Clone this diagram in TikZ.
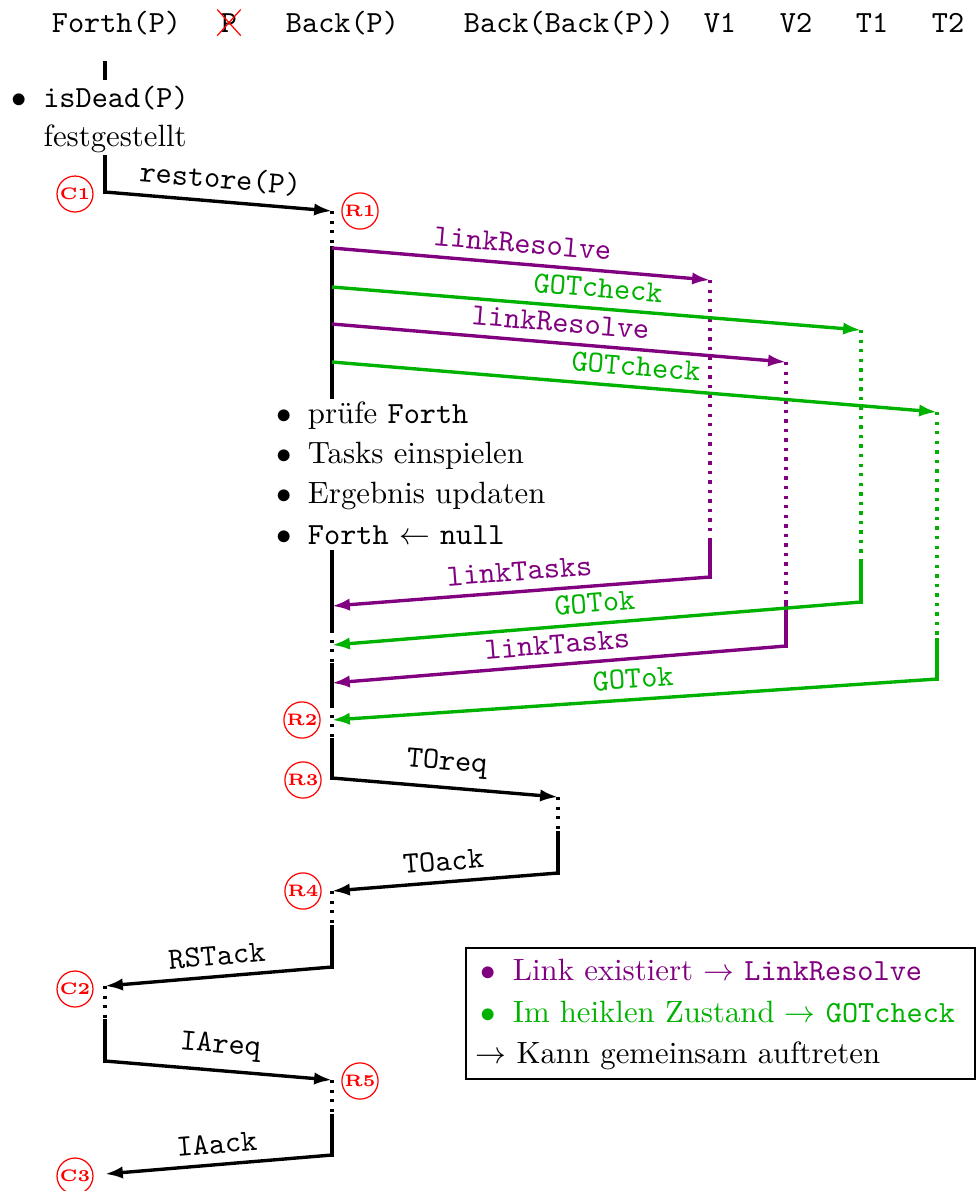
\documentclass[tikz,border=0pt]{standalone}
\usepackage{fontspec}
\usetikzlibrary{arrows.meta,shapes.misc}
\definecolor{lkcol}{rgb}{0.5,0,0.5}
\definecolor{gtcol}{rgb}{0,0.7,0}
\begin{document}
\begin{tikzpicture}[x=0.325pt, y=-0.325pt,
  life/.style={line width=1.1pt, line cap=rect},
  lifedot/.style={line width=1.1pt, dotted},
  msg/.style={line width=1.1pt, -{Latex[length=5.8pt,width=4pt]}},
  lbl/.style={above=2.2pt, sloped, font=\ttfamily, inner sep=0.8pt},
  stamp/.style={circle, draw=red, text=red, font=\fontsize{5.4pt}{6pt}\selectfont\bfseries, inner sep=0.4pt, minimum size=9.6pt, line width=0.4pt},
  head/.style={anchor=base, font=\ttfamily},
  txt/.style={anchor=base west, inner sep=0pt}]
\useasboundingbox (0,0) rectangle (978,1191);

% participants
\node[head] (hF) at (116.5,32) {Forth(P)};
\node[head, cross out, draw=red, inner sep=1pt] (hP) at (229,32) {P};
\node[head] (hB) at (342.5,32) {Back(P)};
\node[head] (hBB) at (569,32) {Back(Back(P))};
\node[head] (hV1) at (720,32) {V1};
\node[head] (hV2) at (796,32) {V2};
\node[head] (hT1) at (872,32) {T1};
\node[head] (hT2) at (948,32) {T2};

% event points
\coordinate (F0) at (105,63);  \coordinate (F1) at (105,78);
\coordinate (F2) at (105,157); \coordinate (c1) at (105,192);
\coordinate (r1) at (332,211);
\coordinate (B1) at (332,248); \coordinate (B2) at (332,287);
\coordinate (B3) at (332,324); \coordinate (B4) at (332,362);
\coordinate (B5) at (332,397);
\coordinate (v1a) at (710,280); \coordinate (v1b) at (710,540); \coordinate (v1c) at (710,577);
\coordinate (t1a) at (861,330); \coordinate (t1b) at (861,563); \coordinate (t1c) at (861,602);
\coordinate (v2a) at (786,362); \coordinate (v2b) at (786,605); \coordinate (v2c) at (786,646);
\coordinate (t2a) at (937,412); \coordinate (t2b) at (937,640); \coordinate (t2c) at (937,679);
\coordinate (B6) at (332,552);  \coordinate (B7) at (332,606);
\coordinate (B8) at (332,630);  \coordinate (B9) at (332,645);
\coordinate (B10) at (332,665); \coordinate (B11) at (332,683);
\coordinate (B12) at (332,705); \coordinate (B13) at (332,720);
\coordinate (B14) at (332,740); \coordinate (B15) at (332,778);
\coordinate (bb1) at (558,797); \coordinate (bb2) at (558,833); \coordinate (bb3) at (558,873);
\coordinate (B16) at (332,891); \coordinate (B17) at (332,927); \coordinate (B18) at (332,967);
\coordinate (F3) at (105,986);  \coordinate (F4) at (105,1021); \coordinate (F5) at (105,1061);
\coordinate (B19) at (332,1080); \coordinate (B20) at (332,1116); \coordinate (B21) at (332,1155);
\coordinate (F6) at (105,1174);

% Forth(P)
\draw[life] (F0) -- (F1);
\node[txt] (dead) at (11,107) {$\bullet$\hspace{5.3pt}\texttt{isDead(P)}};
\node[txt] (fest) at (43,146) {festgestellt};
\draw[life] (F2) -- (c1);
\draw[lifedot] (F3) -- (F4);
\draw[life] (F4) -- (F5);

% Back(P)
\draw[lifedot] (r1) -- (B1);
\draw[life] (B1) -- (B5);
\node[txt] (s1) at (276,423) {$\bullet$\hspace{5.2pt}prüfe \texttt{Forth}};
\node[txt] (s2) at (276,463) {$\bullet$\hspace{5.2pt}Tasks einspielen};
\node[txt] (s3) at (276,503) {$\bullet$\hspace{5.2pt}Ergebnis updaten};
\node[txt] (s4) at (276,544) {$\bullet$\hspace{5.2pt}\texttt{Forth} $\leftarrow$ \texttt{null}};
\draw[life] (B6) -- (B8);
\draw[lifedot] (B8) -- (B10);
\draw[life] (B10) -- (B12);
\draw[lifedot] (B12) -- (B14);
\draw[life] (B14) -- (B15);
\draw[lifedot] (B16) -- (B17);
\draw[life] (B17) -- (B18);
\draw[lifedot] (B19) -- (B20);
\draw[life] (B20) -- (B21);

% Back(Back(P))
\draw[lifedot] (bb1) -- (bb2);
\draw[life] (bb2) -- (bb3);

% V1, V2, T1, T2
\draw[lifedot, lkcol] (v1a) -- (v1b);
\draw[life, lkcol] (v1b) -- (v1c);
\draw[lifedot, gtcol] (t1a) -- (t1b);
\draw[life, gtcol] (t1b) -- (t1c);
\draw[lifedot, lkcol] (v2a) -- (v2b);
\draw[life, lkcol] (v2b) -- (v2c);
\draw[lifedot, gtcol] (t2a) -- (t2b);
\draw[life, gtcol] (t2b) -- (t2c);

% messages
\draw[msg] (c1) -- node[lbl] (mrestore) {restore(P)} (r1);
\draw[msg, lkcol] (B1) -- node[lbl, text=lkcol] (mlr1) {linkResolve} (v1a);
\draw[msg, gtcol] (B2) -- node[lbl, text=gtcol] (mgc1) {GOTcheck} (t1a);
\draw[msg, lkcol] (B3) -- node[lbl, text=lkcol] (mlr2) {linkResolve} (v2a);
\draw[msg, gtcol] (B4) -- node[lbl, text=gtcol] (mgc2) {GOTcheck} (t2a);
\draw[msg, lkcol] (v1c) -- node[lbl, text=lkcol] (mlt1) {linkTasks} (B7);
\draw[msg, gtcol] (t1c) -- node[lbl, text=gtcol] (mok1) {GOTok} (B9);
\draw[msg, lkcol] (v2c) -- node[lbl, text=lkcol] (mlt2) {linkTasks} (B11);
\draw[msg, gtcol] (t2c) -- node[lbl, text=gtcol] (mok2) {GOTok} (B13);
\draw[msg] (B15) -- node[lbl] (mtoreq) {TOreq} (bb1);
\draw[msg] (bb3) -- node[lbl] (mtoack) {TOack} (B16);
\draw[msg] (B18) -- node[lbl] (mrst) {RSTack} (F3);
\draw[msg] (F5) -- node[lbl] (miareq) {IAreq} (B19);
\draw[msg] (B21) -- node[lbl] (miaack) {IAack} (F6);

% checkpoints
\node[stamp] (C1) at (75,194) {C1};
\node[stamp] (R1) at (360,211) {R1};
\node[stamp] (R2) at (302,720) {R2};
\node[stamp] (R3) at (303,780) {R3};
\node[stamp] (R4) at (303,891) {R4};
\node[stamp] (C2) at (75,989) {C2};
\node[stamp] (R5) at (360,1081) {R5};
\node[stamp] (C3) at (75,1176) {C3};

% legend
\node[draw, line width=0.6pt, anchor=north west, minimum width=165.4pt, minimum height=42.6pt, inner sep=0pt] (legend) at (465,947) {};
\node[txt, text=lkcol] (leg1) at (480,980) {$\bullet$\hspace{5.5pt}Link existiert $\rightarrow$ \texttt{LinkResolve}};
\node[txt, text=gtcol] (leg2) at (480,1022) {$\bullet$\hspace{5.5pt}Im heiklen Zustand $\rightarrow$ \texttt{GOTcheck}};
\node[txt] (leg3) at (475,1063) {$\rightarrow$ Kann gemeinsam auftreten};
\end{tikzpicture}
\end{document}
